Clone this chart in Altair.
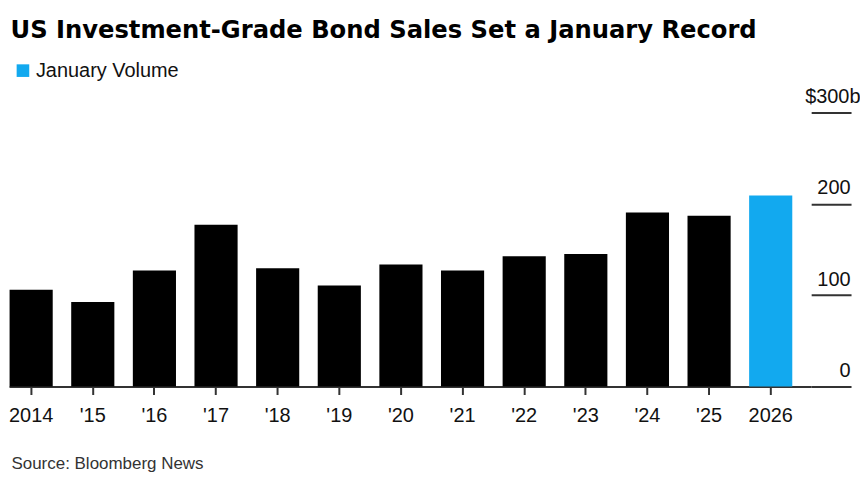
import altair as alt
import pandas as pd

years = ["2014", "'15", "'16", "'17", "'18", "'19", "'20", "'21", "'22", "'23", "'24", "'25", "2026"]
volumes = [106, 92.5, 127, 177, 129.5, 110.5, 133.5, 127, 142.5, 145, 190.5, 187, 209]
series = ["Prior"] * 12 + ["January Volume"]
y_ticks = [0, 100, 200, 300]

BLUE = "#12a9ef"
FONT = "Liberation Sans"

df = pd.DataFrame({"year": years, "volume": volumes, "series": series})

chart = alt.Chart(df).mark_bar().encode(
    x=alt.X(
        "year:N",
        sort=years,
        scale=alt.Scale(paddingInner=0.3, paddingOuter=0.158, align=0.03),
        axis=alt.Axis(
            title="Source: Bloomberg News",
            titleX=2,
            titleY=82,
            titleAlign="left",
            titleAnchor="start",
            titleBaseline="alphabetic",
            titleFontSize=17,
            titleFontWeight="normal",
            titleColor="#333333",
            titleFont=FONT,
            labelAngle=0,
            labelFontSize=20,
            labelFont=FONT,
            labelColor="#111111",
            labelPadding=11,
            tickSize=8,
            tickWidth=2,
            tickColor="#333333",
            domainColor="#333333",
            domainWidth=2,
        ),
    ),
    y=alt.Y(
        "volume:Q",
        scale=alt.Scale(domain=[0, 300]),
        axis=alt.Axis(
            orient="right",
            values=y_ticks,
            title=None,
            grid=False,
            domain=False,
            labelExpr="datum.value == 300 ? '$300b' : datum.label",
            tickSize=40,
            tickWidth=2,
            tickColor="#333333",
            labelAlign="right",
            labelPadding={"condition": {"test": "datum.value == 300", "value": 9}, "value": -1},
            labelBaseline="alphabetic",
            labelOffset=-10,
            labelFontSize=20,
            labelFont=FONT,
            labelColor="#111111",
        ),
    ),
    color=alt.Color(
        "series:N",
        scale=alt.Scale(domain=["January Volume", "Prior"], range=[BLUE, "#000000"]),
        legend=alt.Legend(
            values=["January Volume"],
            title=None,
            orient="none",
            legendX=4,
            legendY=-52,
            symbolType="square",
            symbolSize=160,
            symbolStrokeWidth=0,
            labelFontSize=20,
            labelFont=FONT,
            labelColor="#111111",
            labelOffset=3,
            padding=0,
        ),
    ),
).properties(
    width=805,
    height=275,
    padding={"left": 0, "top": 10, "right": 0, "bottom": 20},
    title=alt.TitleParams(
        "US Investment-Grade Bond Sales Set a January Record",
        anchor="start",
        dx=2,
        fontSize=24.3,
        fontWeight="bold",
        font="DejaVu Sans",
        color="#000000",
        offset=17,
    ),
).configure_view(stroke=None)

chart.save("out.html", embed_options={"renderer": "svg", "actions": False})
